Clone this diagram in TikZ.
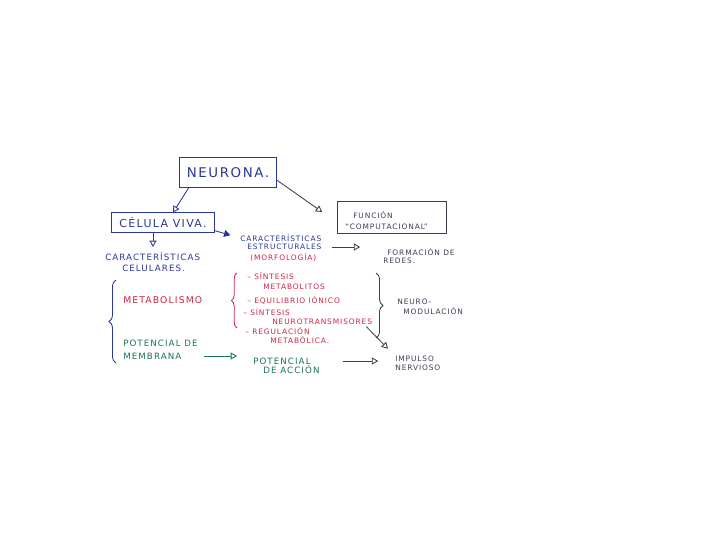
\documentclass[tikz,border=0pt]{standalone}
\usepackage{fontspec}
\newfontfamily\hand[LetterSpace=12]{DejaVu Sans}
\usetikzlibrary{arrows.meta,decorations.pathreplacing}
\definecolor{inkblue}{RGB}{40,55,150}
\definecolor{inkred}{RGB}{205,35,70}
\definecolor{inkgreen}{RGB}{25,115,90}
\definecolor{inkgray}{RGB}{60,60,85}
\tikzset{
  txt/.style={anchor=west,inner sep=0pt,font=\hand\fontsize{6.2}{7}\selectfont},
  sml/.style={anchor=west,inner sep=0pt,font=\hand\fontsize{5.3}{6}\selectfont},
  box/.style={draw,rectangle,inner sep=0pt,line width=0.6pt},
  arr/.style={line width=0.6pt,-{Triangle[open,length=4.5pt,width=5pt]}},
  brc/.style={line width=0.6pt,decorate,decoration={brace,amplitude=5pt}}
}

\begin{document}
\begin{tikzpicture}[x=0.025cm,y=-0.025cm]
  \useasboundingbox (0,0) rectangle (720,540);

  % cajas
  \node[box,inkblue,minimum width=2.43cm,minimum height=0.73cm,font=\hand\fontsize{9.5}{11}\selectfont] (neurona) at (228,172.5) {NEURONA.};
  \node[box,inkblue,minimum width=2.58cm,minimum height=0.48cm,font=\hand\fontsize{7.8}{9}\selectfont] (celula) at (163,222.5) {CÉLULA VIVA.};
  \node[box,inkgray,minimum width=2.73cm,minimum height=0.78cm] (funcion) at (392,217.5) {};
  \node[sml,inkgray] (funcion1) at (353,215) {FUNCIÓN};
  \node[sml,inkgray] (funcion2) at (345,227) {“COMPUTACIONAL”};

  % textos
  \node[txt,inkblue] (celulares1) at (105,257) {CARACTERÍSTICAS};
  \node[txt,inkblue] (celulares2) at (122,268) {CELULARES.};
  \node[sml,inkblue] (estruct1) at (240,238) {CARACTERÍSTICAS};
  \node[sml,inkblue] (estruct2) at (247,247) {ESTRUCTURALES};
  \node[sml,inkred] (morfo) at (250,258) {(MORFOLOGÍA)};
  \node[sml,inkgray] (formacion1) at (387,252) {FORMACIÓN DE};
  \node[sml,inkgray] (formacion2) at (383,261) {REDES.};

  \node[txt,inkred,font=\hand\fontsize{6.6}{7}\selectfont] (metab) at (123,300) {METABOLISMO};
  \node[txt,inkgreen] (membrana1) at (123,343) {POTENCIAL DE};
  \node[txt,inkgreen] (membrana2) at (123,356) {MEMBRANA};

  \node[sml,inkred] (sint1) at (247,276) {– SÍNTESIS};
  \node[sml,inkred] (sint2) at (263,287) {METABOLITOS};
  \node[sml,inkred] (equil) at (247,301) {– EQUILIBRIO IÓNICO};
  \node[sml,inkred] (neuro1) at (243,312) {– SÍNTESIS};
  \node[sml,inkred] (neuro2) at (272,321.5) {NEUROTRANSMISORES};
  \node[sml,inkred] (regul1) at (245,331) {– REGULACIÓN};
  \node[sml,inkred] (regul2) at (270,340) {METABÓLICA.};

  \node[sml,inkgray] (neuromod1) at (397,302) {NEURO-};
  \node[sml,inkgray] (neuromod2) at (403,311) {MODULACIÓN};
  \node[txt,inkgreen] (accion1) at (253,361) {POTENCIAL};
  \node[txt,inkgreen] (accion2) at (263,370) {DE ACCIÓN};
  \node[sml,inkgray] (impulso1) at (395,359) {IMPULSO};
  \node[sml,inkgray] (impulso2) at (395,368) {NERVIOSO};

  % flechas
  \draw[arr,inkblue] (neurona.201) -- (celula.45);
  \draw[arr,inkgray,shorten >=0.45cm] (neurona.-9) -- (funcion.185);
  \draw[arr,inkblue,shorten >=4pt] ([xshift=-0.25cm]celula.south) -- ([xshift=-0.25cm]celula.south |- celulares1.north);
  \draw[inkblue,line width=0.6pt,-{Triangle[length=4.5pt,width=5pt]},shorten >=0.25cm] (celula.-9) -- (estruct1.west);
  \draw[arr,inkgray,shorten <=0.25cm,shorten >=0.67cm] (estruct2.east) -- (estruct2.east -| formacion1.west);
  \draw[arr,inkgreen,shorten <=0.57cm,shorten >=0.4cm] (membrana2.east) -- (membrana2.east -| accion1.west);
  \draw[arr,inkgray,shorten <=0.8cm,shorten >=0.42cm] (accion1.east) -- (accion1.east -| impulso1.west);
  \draw[arr,inkgray,shorten <=2pt,shorten >=0.25cm] ([xshift=-0.2cm]neuro2.south east) -- (impulso1.north west);

  % llaves
  \draw[brc,inkblue] (116,363) -- (116,280);
  \draw[brc,inkred,decoration={amplitude=4pt}] (237,328) -- (237,273);
  \draw[brc,inkgray] (376,273) -- (376,338);
\end{tikzpicture}
\end{document}
